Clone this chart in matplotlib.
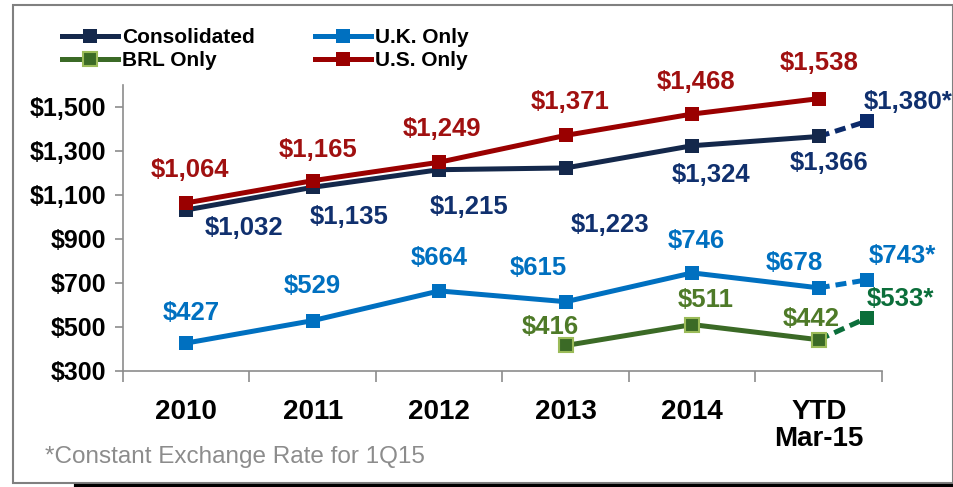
import numpy as np
import matplotlib.pyplot as plt
from matplotlib.patches import Rectangle
from matplotlib.lines import Line2D

plt.rcParams['font.family'] = ['Liberation Sans', 'DejaVu Sans']

# DATA
categories = ['2010', '2011', '2012', '2013', '2014', 'YTD\nMar-15']
consolidated = [1032, 1135, 1215, 1223, 1324, 1366]
uk_only = [427, 529, 664, 615, 746, 678]
brl_only = [np.nan, np.nan, np.nan, 416, 511, 442]
us_only = [1064, 1165, 1249, 1371, 1468, 1538]

# constant exchange rate points (marker height as drawn, label as printed)
cer_consolidated = 1435
cer_uk = 714
cer_brl = 541
cer_labels = ['$1,380*', '$743*', '$533*']

# STYLE
c_cons, c_cons_lbl, c_cons_star = '#14284b', '#10306e', '#0b2a6a'
c_uk = '#0070c0'
c_brl, c_brl_edge, c_brl_lbl, c_brl_star = '#3b6a26', '#9bbb59', '#4e7a28', '#0b6e3a'
c_us, c_us_lbl = '#9a0000', '#a01010'

x = np.arange(len(categories))
x_star = 5.38

fig = plt.figure(figsize=(9.54, 4.87), dpi=100)
ax = fig.add_axes([123/954, 1-371/487, (882-123)/954, (371-85)/487])

lw, ms = 3.6, 10

def draw(vals, color, face=None, edge=None):
    ax.plot(x, vals, color=color, lw=lw, marker='s', ms=ms,
            mfc=face or color, mec=edge or color, mew=1.5 if edge else 0,
            solid_capstyle='butt', zorder=3)

draw(consolidated, c_cons)
draw(uk_only, c_uk)
draw(brl_only, c_brl, face=c_brl, edge=c_brl_edge)
draw(us_only, c_us)

# dashed continuation to constant-rate points
for last, star, col in [(consolidated[-1], cer_consolidated, c_cons_star),
                        (uk_only[-1], cer_uk, c_uk),
                        (brl_only[-1], cer_brl, c_brl_star)]:
    ax.plot([x[-1], x_star], [last, star], color=col, lw=lw, ls=(0, (2.2, 1.2)), zorder=2)
    ax.plot([x_star], [star], marker='s', ms=ms, color=col, mew=0, zorder=3)

def fmt(v):
    return '${:,.0f}'.format(v)

def labels(vals, offs, color):
    for xi, v, off in zip(x, vals, offs):
        if off is None or np.isnan(v):
            continue
        ax.annotate(fmt(v), (xi, v), xytext=off, textcoords='offset pixels',
                    ha='center', va='center', color=color, fontsize=18.5,
                    fontweight='bold', zorder=5)

labels(consolidated, [(58, -18), (36, -30), (30, -37), (44, -57), (19, -29), (10, -27)], c_cons_lbl)
labels(uk_only, [(5, 30), (0, 35), (0, 33), (-27, 34), (4, 32), (-24, 25)], c_uk)
labels(brl_only, [None, None, None, (-15, 18), (13, 25), (-8, 21)], c_brl_lbl)
labels(us_only, [(4, 33), (5, 31), (3, 33), (4, 33), (4, 32), (0, 36)], c_us_lbl)

for star, txt, off, col in [(cer_consolidated, cer_labels[0], (41, 19), c_cons_lbl),
                            (cer_uk, cer_labels[1], (36, 24), c_uk),
                            (cer_brl, cer_labels[2], (34, 19), c_brl_star)]:
    ax.annotate(txt, (x_star, star), xytext=off, textcoords='offset pixels',
                ha='center', va='center', color=col, fontsize=18.5,
                fontweight='bold', zorder=5, annotation_clip=False)

# AXES
ax.set_xlim(-0.5, 5.5)
ax.set_ylim(300, 1600)
ax.set_yticks(np.arange(300, 1501, 200))
ax.set_yticklabels([fmt(v) for v in np.arange(300, 1501, 200)], fontsize=18, fontweight='bold')
ax.set_xticks(x)
ax.set_xticklabels(categories, fontsize=20, fontweight='bold', linespacing=1.05)
ax.set_xticks(np.arange(-0.5, 5.6, 1), minor=True)
ax.tick_params(axis='x', which='major', length=0, pad=20)
ax.tick_params(axis='x', which='minor', length=8, color='#8c8c8c', width=1.2)
ax.tick_params(axis='y', length=6, color='#8c8c8c', width=1.2, pad=6)
for s in ['top', 'right']:
    ax.spines[s].set_visible(False)
for s in ['left', 'bottom']:
    ax.spines[s].set_color('#8c8c8c')
    ax.spines[s].set_linewidth(1.2)

# LEGEND
handles = [
    Line2D([], [], color=c_cons, lw=lw, marker='s', ms=ms, mew=0),
    Line2D([], [], color=c_brl, lw=lw, marker='s', ms=ms, mfc=c_brl, mec=c_brl_edge, mew=1.5),
    Line2D([], [], color=c_uk, lw=lw, marker='s', ms=ms, mew=0),
    Line2D([], [], color=c_us, lw=lw, marker='s', ms=ms, mew=0),
]
names = ['Consolidated', 'BRL Only', 'U.K. Only', 'U.S. Only']
leg = fig.legend(handles, names, ncol=2, loc='upper left', bbox_to_anchor=(62/954, 1-28/487),
                 frameon=False, borderpad=0, borderaxespad=0, handlelength=2.7,
                 handletextpad=0.2, columnspacing=2.85, labelspacing=0.2,
                 prop={'size': 15, 'weight': 'bold'})

# FOOTNOTE AND FRAME
fig.text(45/954, 1-457/487, '*Constant Exchange Rate for 1Q15', fontsize=17.5,
         color='#8c8c8c', va='center', ha='left')
fig.patches.append(Rectangle((13/954, 1-483/487), 940/954, 478/487, transform=fig.transFigure,
                             fill=False, ec='#808080', lw=1.5))
fig.lines.append(Line2D([76/954, 1], [1-486/487]*2, transform=fig.transFigure,
                        color='black', lw=3))

fig.savefig('out.png', dpi=100)
